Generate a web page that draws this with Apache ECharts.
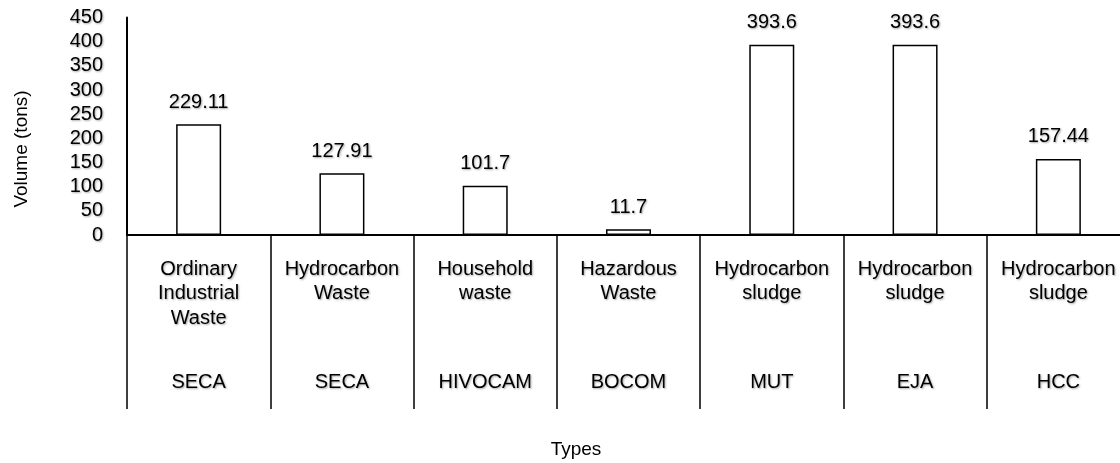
<!DOCTYPE html>
<html>
<head>
<meta charset="utf-8">
<script src="https://cdn.jsdelivr.net/npm/echarts@6/dist/echarts.min.js"></script>
<style>
html,body{margin:0;padding:0;background:#fff;}
#chart{width:1120px;height:463px;}
</style>
</head>
<body>
<div id="chart"></div>
<script>
const wasteTypes = [
  "Ordinary\nIndustrial\nWaste",
  "Hydrocarbon\nWaste",
  "Household\nwaste",
  "Hazardous\nWaste",
  "Hydrocarbon\nsludge",
  "Hydrocarbon\nsludge",
  "Hydrocarbon\nsludge"
];
const companies = ["SECA", "SECA", "HIVOCAM", "BOCOM", "MUT", "EJA", "HCC"];
const volumes = [229.11, 127.91, 101.7, 11.7, 393.6, 393.6, 157.44];
const yTicks = { min: 0, max: 450, interval: 50 };
const yTitle = "Volume (tons)";
const xTitle = "Types";

const FONT = "'Liberation Sans', Arial, sans-serif";
const shadow = { textShadowColor: 'rgba(0,0,0,0.35)', textShadowBlur: 2, textShadowOffsetX: 1, textShadowOffsetY: 1 };
const gshadow = { shadowColor: 'rgba(0,0,0,0.35)', shadowBlur: 2, shadowOffsetX: 1, shadowOffsetY: 1 };

const chart = echarts.init(document.getElementById('chart'), null, { renderer: 'canvas' });
chart.setOption({
  animation: false,
  backgroundColor: '#fff',
  grid: { left: 127, top: 17.6, bottom: 228, right: -10, containLabel: false, outerBoundsMode: 'none' },
  xAxis: [
    {
      type: 'category',
      data: wasteTypes,
      position: 'bottom',
      axisLine: { show: true, lineStyle: { color: '#000', width: 2 } },
      axisTick: { show: true, interval: 0, length: 174, lineStyle: { color: '#000', width: 1.5 } },
      axisLabel: Object.assign({
        interval: 0, margin: 22, color: '#000', fontFamily: FONT, fontSize: 20, lineHeight: 24.5, align: 'center',
        hideOverlap: false
      }, shadow),
      splitLine: { show: false }
    },
    {
      type: 'category',
      data: companies,
      position: 'bottom',
      axisLine: { show: false },
      axisTick: { show: false },
      axisLabel: Object.assign({
        interval: 0, margin: 136, color: '#000', fontFamily: FONT, fontSize: 20, lineHeight: 22
      }, shadow),
      splitLine: { show: false }
    }
  ],
  yAxis: {
    type: 'value',
    min: yTicks.min, max: yTicks.max, interval: yTicks.interval,
    axisLine: { show: true, lineStyle: { color: '#000', width: 2 } },
    axisTick: { show: false },
    splitLine: { show: false },
    axisLabel: Object.assign({ margin: 24, color: '#000', fontFamily: FONT, fontSize: 20 }, shadow)
  },
  series: [{
    type: 'bar',
    xAxisIndex: 0,
    data: volumes,
    barWidth: 45,
    itemStyle: { color: '#fff', borderColor: '#000', borderWidth: 1.5 },
    label: Object.assign({
      show: true, position: 'top', distance: 12, color: '#000', fontFamily: FONT, fontSize: 20
    }, shadow)
  }],
  graphic: [
    {
      type: 'text', x: 576, y: 450,
      style: Object.assign({ text: xTitle, fill: '#000', font: "19px " + FONT, align: 'center', verticalAlign: 'middle' }, gshadow)
    },
    {
      type: 'text', x: 22, y: 149, rotation: Math.PI / 2,
      style: Object.assign({ text: yTitle, fill: '#000', font: "19px " + FONT, align: 'center', verticalAlign: 'middle' }, gshadow)
    }
  ]
});
</script>
</body>
</html>
